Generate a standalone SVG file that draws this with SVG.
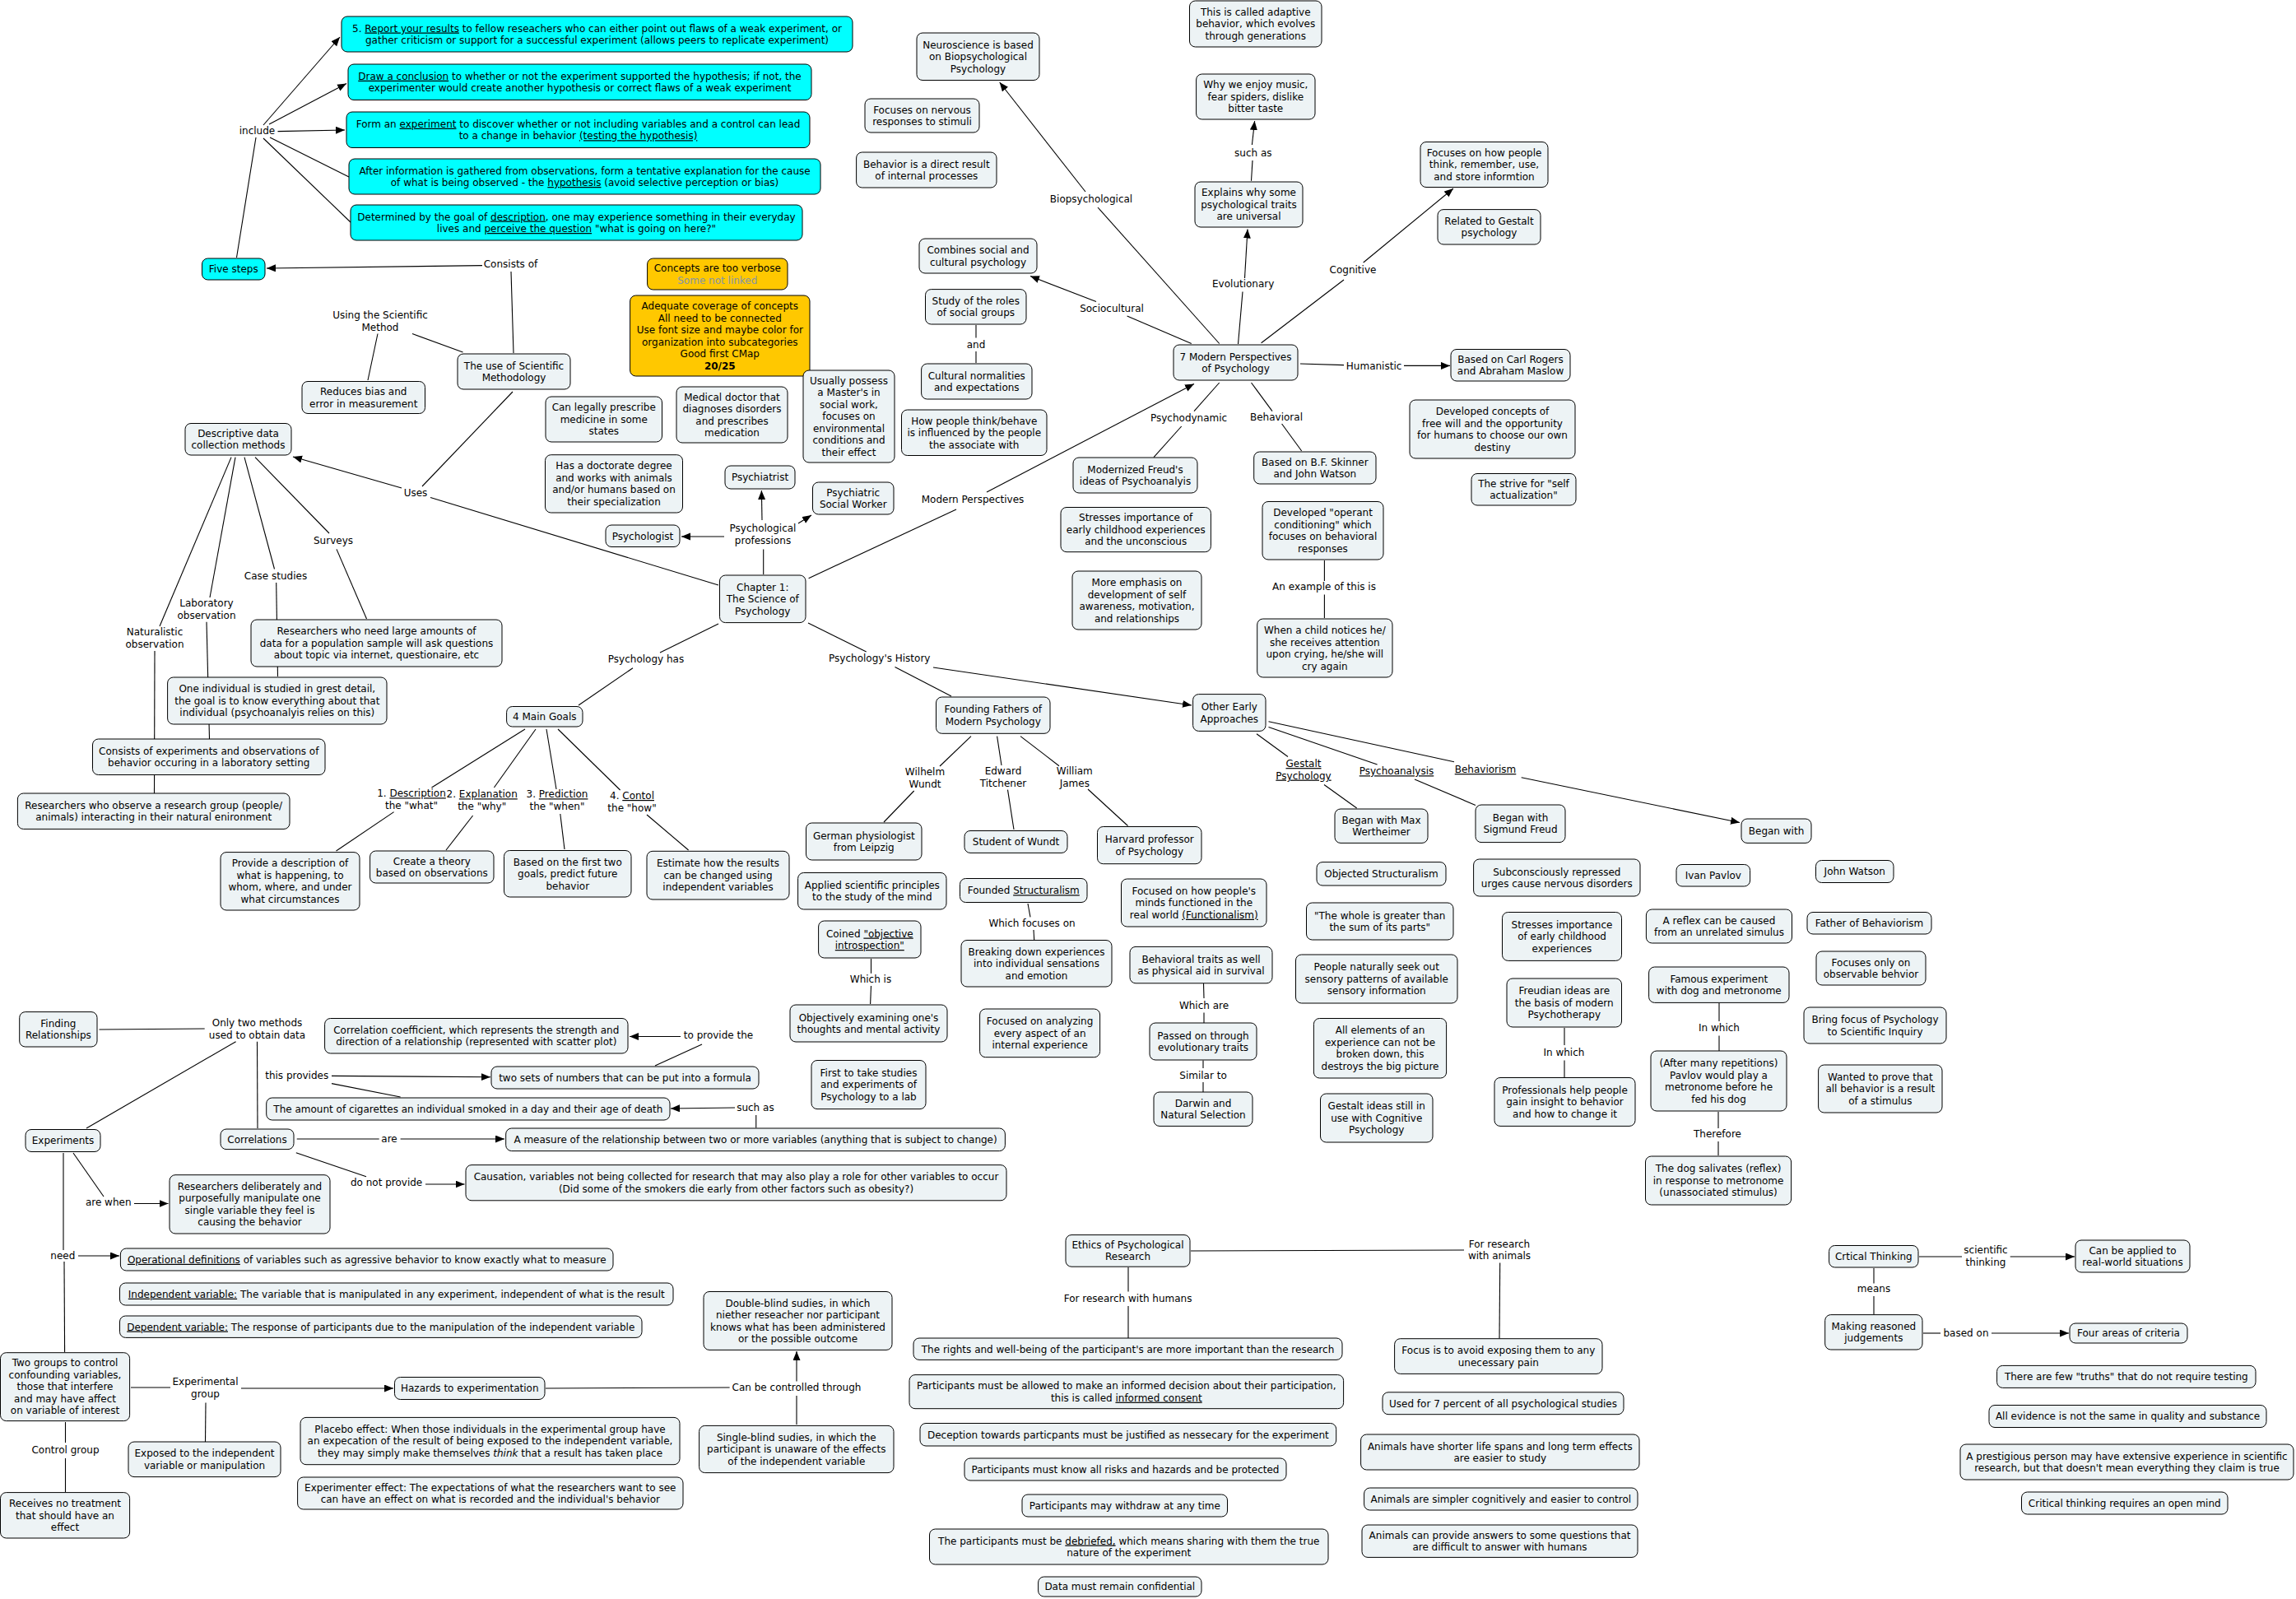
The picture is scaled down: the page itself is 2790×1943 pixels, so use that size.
<svg xmlns="http://www.w3.org/2000/svg" width="2790" height="1943" viewBox="0 0 2790 1943">
<style>
text{font-family:"DejaVu Sans",Verdana,sans-serif;font-size:12px;fill:#000;text-anchor:middle}
.n rect{fill:#EDF3F5;stroke:#000;stroke-width:1}
.c rect{fill:#00FFFF;stroke:#000;stroke-width:1}
.o rect{fill:#FFC800;stroke:#000;stroke-width:1}
#edges line{stroke:#000;stroke-width:1.1}
.a{marker-end:url(#ah)}
.u{text-decoration:underline}
.b{font-weight:bold}
.g{fill:#8494A8}
</style>
<defs>
<marker id="ah" markerUnits="userSpaceOnUse" markerWidth="12" markerHeight="10" refX="11" refY="4.5" orient="auto"><path d="M0,0 L11,4.5 L0,9 z" fill="#000"/></marker>
</defs>
<rect width="2790" height="1943" fill="#fff"/>
<g id="edges">
<line class="a" x1="320" y1="152" x2="413" y2="45"/>
<line class="a" x1="327" y1="151" x2="421" y2="101.5"/>
<line class="a" x1="337.5" y1="159.6" x2="419" y2="158"/>
<line x1="328" y1="167" x2="424" y2="215"/>
<line x1="320" y1="168" x2="426" y2="270"/>
<line x1="287.5" y1="313" x2="311" y2="167"/>
<line class="a" x1="586" y1="322.6" x2="324" y2="326"/>
<line x1="624" y1="429" x2="621" y2="330"/>
<line x1="562.5" y1="428" x2="501" y2="405.5"/>
<line x1="459" y1="405.5" x2="447" y2="462"/>
<line x1="623" y1="476" x2="513" y2="591"/>
<line class="a" x1="488" y1="593" x2="356" y2="555"/>
<line x1="873" y1="711" x2="523" y2="604.5"/>
<line x1="281" y1="555.6" x2="194" y2="761"/>
<line x1="286" y1="555.6" x2="255" y2="726"/>
<line x1="297" y1="555.6" x2="333.5" y2="691.5"/>
<line x1="310" y1="555.6" x2="400" y2="648"/>
<line x1="409" y1="667.4" x2="445.5" y2="752"/>
<line x1="335.7" y1="708" x2="337.5" y2="822"/>
<line x1="251" y1="755.7" x2="254.5" y2="898"/>
<line x1="188" y1="791" x2="187.5" y2="964"/>
<line x1="873" y1="758" x2="802" y2="793"/>
<line x1="769" y1="811.7" x2="703" y2="857"/>
<line x1="638" y1="886" x2="524.5" y2="957"/>
<line x1="651" y1="886" x2="600.4" y2="957"/>
<line x1="664" y1="886" x2="676" y2="959"/>
<line x1="678" y1="886" x2="753.6" y2="960"/>
<line x1="478.6" y1="986.6" x2="408.5" y2="1034"/>
<line x1="574.6" y1="991" x2="542" y2="1033"/>
<line x1="680.8" y1="989" x2="686" y2="1032"/>
<line x1="786" y1="990" x2="836.6" y2="1033"/>
<line x1="982" y1="757" x2="1052.7" y2="792"/>
<line x1="1087.5" y1="810.4" x2="1156" y2="846"/>
<line class="a" x1="1134" y1="811" x2="1448" y2="857"/>
<line x1="1180" y1="894.6" x2="1142" y2="931"/>
<line x1="1110.7" y1="961" x2="1074" y2="999"/>
<line x1="1211.6" y1="894.6" x2="1217" y2="930"/>
<line x1="1224.5" y1="959.7" x2="1232" y2="1008"/>
<line x1="1240" y1="894.6" x2="1287" y2="930.7"/>
<line x1="1322" y1="959" x2="1370.5" y2="1003.5"/>
<line x1="1058.5" y1="1165" x2="1058.5" y2="1182.8"/>
<line x1="1058.5" y1="1198" x2="1057.6" y2="1220"/>
<line x1="1249" y1="1098" x2="1252" y2="1114.4"/>
<line x1="1256" y1="1130" x2="1256.7" y2="1142"/>
<line x1="1462.5" y1="1195" x2="1463" y2="1213"/>
<line x1="1463" y1="1230.4" x2="1463" y2="1243"/>
<line x1="1462" y1="1288.6" x2="1462" y2="1298"/>
<line x1="1462" y1="1315" x2="1462" y2="1327"/>
<line x1="927.7" y1="698" x2="927.7" y2="667.4"/>
<line class="a" x1="926" y1="632" x2="925.4" y2="596"/>
<line class="a" x1="970" y1="636" x2="986" y2="626"/>
<line class="a" x1="880" y1="652" x2="828" y2="652"/>
<line x1="982.6" y1="702.7" x2="1162" y2="619"/>
<line class="a" x1="1199" y1="598" x2="1451" y2="466.4"/>
<line x1="1481.7" y1="417.5" x2="1334" y2="252"/>
<line class="a" x1="1319" y1="233" x2="1214.7" y2="100"/>
<line x1="1447.8" y1="417.5" x2="1369.6" y2="384"/>
<line class="a" x1="1332" y1="366.5" x2="1252" y2="335.6"/>
<line x1="1504.5" y1="418" x2="1510" y2="354.5"/>
<line class="a" x1="1512.5" y1="338" x2="1516" y2="278.5"/>
<line x1="1520.5" y1="219.7" x2="1522" y2="195"/>
<line class="a" x1="1521.4" y1="176" x2="1524.6" y2="147"/>
<line x1="1532.6" y1="416.7" x2="1633" y2="340"/>
<line class="a" x1="1656.7" y1="319" x2="1766" y2="229"/>
<line x1="1580" y1="442" x2="1633" y2="443.6"/>
<line class="a" x1="1706" y1="444.4" x2="1762" y2="444.4"/>
<line x1="1481.7" y1="465" x2="1451" y2="499.6"/>
<line x1="1435.7" y1="518" x2="1402" y2="555.6"/>
<line x1="1520.5" y1="465" x2="1546" y2="499.6"/>
<line x1="1557.6" y1="515" x2="1581.7" y2="548"/>
<line x1="1609.4" y1="681" x2="1609.4" y2="706"/>
<line x1="1609.4" y1="722.5" x2="1609.4" y2="751"/>
<line x1="1186" y1="395" x2="1186" y2="410.4"/>
<line x1="1186" y1="427" x2="1186" y2="441"/>
<line x1="1527" y1="891.7" x2="1565" y2="919.5"/>
<line x1="1609" y1="953.5" x2="1648.7" y2="982"/>
<line x1="1541.5" y1="883.4" x2="1673.6" y2="929"/>
<line x1="1719" y1="947" x2="1793" y2="978.4"/>
<line x1="1541.5" y1="876.8" x2="1767" y2="925.7"/>
<line class="a" x1="1848.7" y1="944.8" x2="2114" y2="999.5"/>
<line x1="1901" y1="1249" x2="1901" y2="1270"/>
<line x1="1901" y1="1288.5" x2="1901" y2="1309"/>
<line x1="2089" y1="1219" x2="2089" y2="1241"/>
<line x1="2089" y1="1258.6" x2="2089" y2="1277"/>
<line x1="2088" y1="1351" x2="2088" y2="1371"/>
<line x1="2088" y1="1387" x2="2088" y2="1404"/>
<line x1="120.5" y1="1251" x2="248.7" y2="1250"/>
<line x1="286.6" y1="1265.7" x2="105" y2="1371"/>
<line x1="312.5" y1="1265.7" x2="313" y2="1371"/>
<line x1="486.6" y1="1333" x2="403" y2="1316.6"/>
<line class="a" x1="403" y1="1307.4" x2="596" y2="1308.7"/>
<line x1="796" y1="1295" x2="853" y2="1269"/>
<line class="a" x1="827" y1="1259.5" x2="765" y2="1259.5"/>
<line x1="918.75" y1="1370.5" x2="918.75" y2="1355"/>
<line class="a" x1="893" y1="1346" x2="815" y2="1347"/>
<line x1="360.7" y1="1384" x2="460.7" y2="1384"/>
<line class="a" x1="486.6" y1="1384" x2="613" y2="1384"/>
<line x1="359.8" y1="1400.7" x2="445" y2="1429.7"/>
<line class="a" x1="517" y1="1439" x2="564.5" y2="1439"/>
<line x1="89" y1="1401" x2="126" y2="1454"/>
<line class="a" x1="163" y1="1462.5" x2="204.5" y2="1462.5"/>
<line x1="77" y1="1401" x2="77" y2="1519"/>
<line class="a" x1="95" y1="1526" x2="145" y2="1526"/>
<line x1="78" y1="1533" x2="78.6" y2="1643"/>
<line x1="159" y1="1686" x2="207" y2="1686"/>
<line class="a" x1="293" y1="1687" x2="478" y2="1687"/>
<line x1="250" y1="1704.6" x2="249.5" y2="1752"/>
<line x1="79.5" y1="1728" x2="79.5" y2="1753"/>
<line x1="79.5" y1="1772" x2="79.5" y2="1813"/>
<line x1="663" y1="1687" x2="886.6" y2="1686"/>
<line class="a" x1="968" y1="1678.5" x2="968" y2="1642"/>
<line x1="968" y1="1731" x2="968" y2="1696"/>
<line x1="1371" y1="1540" x2="1371" y2="1569.5"/>
<line x1="1371" y1="1587" x2="1371" y2="1626"/>
<line x1="1447" y1="1520" x2="1779" y2="1519"/>
<line x1="1822.7" y1="1534.6" x2="1822" y2="1626.5"/>
<line x1="2332" y1="1527" x2="2384" y2="1527"/>
<line class="a" x1="2442.7" y1="1527" x2="2521" y2="1527"/>
<line x1="2277" y1="1541" x2="2277" y2="1559.5"/>
<line x1="2277" y1="1575" x2="2277" y2="1597"/>
<line x1="2337" y1="1620" x2="2358" y2="1620"/>
<line class="a" x1="2420" y1="1620" x2="2514" y2="1620"/>
</g>
<g id="labels">
<text x="312.5" y="163.3">include</text>
<text x="620.5" y="325.3">Consists of</text>
<text x="462" y="387.3">Using the Scientific<tspan x="462" dy="14.5">Method</tspan></text>
<text x="505" y="603.3">Uses</text>
<text x="405" y="660.9">Surveys</text>
<text x="335" y="704.3">Case studies</text>
<text x="251" y="737.3">Laboratory<tspan x="251" dy="14.5">observation</tspan></text>
<text x="188" y="772">Naturalistic<tspan x="188" dy="14.5">observation</tspan></text>
<text x="1326" y="246">Biopsychological</text>
<text x="1351" y="378.7">Sociocultural</text>
<text x="1186" y="423">and</text>
<text x="1522.8" y="190">such as</text>
<text x="1510.7" y="349.3">Evolutionary</text>
<text x="1644" y="331.8">Cognitive</text>
<text x="1669.6" y="448.7">Humanistic</text>
<text x="1444.6" y="511.8">Psychodynamic</text>
<text x="1551" y="510.9">Behavioral</text>
<text x="1182" y="610.9">Modern Perspectives</text>
<text x="927" y="646.3">Psychological<tspan x="927" dy="14.5">professions</tspan></text>
<text x="785" y="805.3">Psychology has</text>
<text x="1068.75" y="804.3">Psychology's History</text>
<text x="1124" y="942">Wilhelm<tspan x="1124" dy="14.5">Wundt</tspan></text>
<text x="1219" y="941.3">Edward<tspan x="1219" dy="14.5">Titchener</tspan></text>
<text x="1305.8" y="941.3">William<tspan x="1305.8" dy="14.5">James</tspan></text>
<text x="1058" y="1194.3">Which is</text>
<text x="1254" y="1126.1">Which focuses on</text>
<text x="1463" y="1226">Which are</text>
<text x="1462" y="1310.9">Similar to</text>
<text x="1609" y="717.3">An example of this is</text>
<text x="1584" y="932.1" class="u">Gestalt<tspan x="1584" dy="14.5">Psychology</tspan></text>
<text x="1697" y="941.3" class="u">Psychoanalysis</text>
<text x="1805" y="939.1" class="u">Behaviorism</text>
<text x="1900.4" y="1282.8">In which</text>
<text x="2089" y="1253">In which</text>
<text x="2087" y="1382.3">Therefore</text>
<text x="500" y="968.3">1. <tspan class="u">Description</tspan><tspan x="500" dy="14.5">the "what"</tspan></text>
<text x="585.7" y="969.3">2. <tspan class="u">Explanation</tspan><tspan x="585.7" dy="14.5">the "why"</tspan></text>
<text x="677" y="969.3">3. <tspan class="u">Prediction</tspan><tspan x="677" dy="14.5">the "when"</tspan></text>
<text x="768" y="971">4. <tspan class="u">Contol</tspan><tspan x="768" dy="14.5">the "how"</tspan></text>
<text x="312.5" y="1247.3">Only two methods<tspan x="312.5" dy="14.5">used to obtain data</tspan></text>
<text x="873" y="1262.3">to provide the</text>
<text x="360.7" y="1310.9">this provides</text>
<text x="917.9" y="1350.3">such as</text>
<text x="473" y="1388.3">are</text>
<text x="469.6" y="1441.3">do not provide</text>
<text x="131.7" y="1465.3">are when</text>
<text x="76.3" y="1529.8">need</text>
<text x="249.5" y="1683.3">Experimental<tspan x="249.5" dy="14.5">group</tspan></text>
<text x="79.5" y="1765.7">Control group</text>
<text x="968" y="1690.3">Can be controlled through</text>
<text x="1370.6" y="1582">For research with humans</text>
<text x="1822" y="1515.7">For research<tspan x="1822" dy="14.5">with animals</tspan></text>
<text x="2413" y="1523.3">scientific<tspan x="2413" dy="14.5">thinking</tspan></text>
<text x="2277" y="1570.3">means</text>
<text x="2389" y="1624.3">based on</text>
</g>
<g id="n_report" class="c"><rect x="415" y="20" width="621" height="43" rx="7"/><text x="725.5" y="38.55">5. <tspan class="u">Report your results</tspan> to fellow reseachers who can either point out flaws of a weak experiment, or<tspan x="725.5" dy="14.5">gather criticism or support for a successful experiment (allows peers to replicate experiment)</tspan></text></g>
<g id="n_conclusion" class="c"><rect x="423" y="78" width="563" height="43.5" rx="7"/><text x="704.5" y="96.8"><tspan class="u">Draw a conclusion</tspan> to whether or not the experiment supported the hypothesis; if not, the<tspan x="704.5" dy="14.5">experimenter would create another hypothesis or correct flaws of a weak experiment</tspan></text></g>
<g id="n_experiment" class="c"><rect x="421" y="136" width="563" height="43.5" rx="7"/><text x="702.5" y="154.8">Form an <tspan class="u">experiment</tspan> to discover whether or not including variables and a control can lead<tspan x="702.5" dy="14.5">to a change in behavior <tspan class="u">(testing the hypothesis)</tspan></tspan></text></g>
<g id="n_hypothesis" class="c"><rect x="424" y="193" width="573" height="43" rx="7"/><text x="710.5" y="211.55">After information is gathered from observations, form a tentative explanation for the cause<tspan x="710.5" dy="14.5">of what is being observed - the <tspan class="u">hypothesis</tspan> (avoid selective perception or bias)</tspan></text></g>
<g id="n_description" class="c"><rect x="426" y="249" width="549" height="43" rx="7"/><text x="700.5" y="267.55">Determined by the goal of <tspan class="u">description</tspan>, one may experience something in their everyday<tspan x="700.5" dy="14.5">lives and <tspan class="u">perceive the question</tspan> "what is going on here?"</tspan></text></g>
<g id="n_fivesteps" class="c"><rect x="245.5" y="314" width="76.5" height="26" rx="7"/><text x="283.75" y="331.3">Five steps</text></g>
<g id="n_sci" class="n"><rect x="556" y="430" width="137" height="43" rx="7"/><text x="624.5" y="448.55">The use of Scientific<tspan x="624.5" dy="14.5">Methodology</tspan></text></g>
<g id="n_reduces" class="n"><rect x="367" y="463.5" width="149.5" height="39" rx="7"/><text x="441.75" y="480.05">Reduces bias and<tspan x="441.75" dy="14.5">error in measurement</tspan></text></g>
<g id="n_descdata" class="n"><rect x="225" y="514.5" width="129" height="38.5" rx="7"/><text x="289.5" y="530.8">Descriptive data<tspan x="289.5" dy="14.5">collection methods</tspan></text></g>
<g id="n_verbose" class="o"><rect x="786.6" y="314" width="170.4" height="38" rx="7"/><text x="871.8" y="330.05">Concepts are too verbose<tspan x="871.8" dy="14.5" class="g">Some not linked</tspan></text></g>
<g id="n_grade" class="o"><rect x="765.6" y="359" width="218.4" height="98" rx="7"/><text x="874.8" y="376.05">Adequate coverage of concepts<tspan x="874.8" dy="14.5">All need to be connected</tspan><tspan x="874.8" dy="14.5">Use font size and maybe color for</tspan><tspan x="874.8" dy="14.5">organization into subcategories</tspan><tspan x="874.8" dy="14.5">Good first CMap</tspan><tspan x="874.8" dy="14.5" class="b">20/25</tspan></text></g>
<g id="n_prescribe" class="n"><rect x="663" y="482" width="141.5" height="55" rx="7"/><text x="733.75" y="499.3">Can legally prescribe<tspan x="733.75" dy="14.5">medicine in some</tspan><tspan x="733.75" dy="14.5">states</tspan></text></g>
<g id="n_medical" class="n"><rect x="822" y="470" width="135" height="68" rx="7"/><text x="889.5" y="486.55">Medical doctor that<tspan x="889.5" dy="14.5">diagnoses disorders</tspan><tspan x="889.5" dy="14.5">and prescribes</tspan><tspan x="889.5" dy="14.5">medication</tspan></text></g>
<g id="n_master" class="n"><rect x="976" y="450" width="111" height="112" rx="7"/><text x="1031.5" y="466.8">Usually possess<tspan x="1031.5" dy="14.5">a Master's in</tspan><tspan x="1031.5" dy="14.5">social work,</tspan><tspan x="1031.5" dy="14.5">focuses on</tspan><tspan x="1031.5" dy="14.5">environmental</tspan><tspan x="1031.5" dy="14.5">conditions and</tspan><tspan x="1031.5" dy="14.5">their effect</tspan></text></g>
<g id="n_doctorate" class="n"><rect x="662.5" y="552.7" width="167" height="70.3" rx="7"/><text x="746" y="570.4">Has a doctorate degree<tspan x="746" dy="14.5">and works with animals</tspan><tspan x="746" dy="14.5">and/or humans based on</tspan><tspan x="746" dy="14.5">their specialization</tspan></text></g>
<g id="n_psychiatrist" class="n"><rect x="881" y="566" width="85" height="28" rx="7"/><text x="923.5" y="584.3">Psychiatrist</text></g>
<g id="n_socialworker" class="n"><rect x="987.5" y="586" width="98.5" height="39" rx="7"/><text x="1036.75" y="602.55">Psychiatric<tspan x="1036.75" dy="14.5">Social Worker</tspan></text></g>
<g id="n_psychologist" class="n"><rect x="736" y="638" width="90" height="26.5" rx="7"/><text x="781" y="655.55">Psychologist</text></g>
<g id="n_chapter" class="n"><rect x="874.5" y="699" width="104.5" height="57.6" rx="7"/><text x="926.75" y="717.6">Chapter 1:<tspan x="926.75" dy="14.5">The Science of</tspan><tspan x="926.75" dy="14.5">Psychology</tspan></text></g>
<g id="n_neuro" class="n"><rect x="1114" y="40" width="149" height="57.5" rx="7"/><text x="1188.5" y="58.55">Neuroscience is based<tspan x="1188.5" dy="14.5">on Biopsychological</tspan><tspan x="1188.5" dy="14.5">Psychology</tspan></text></g>
<g id="n_nervous" class="n"><rect x="1051" y="120" width="139" height="41" rx="7"/><text x="1120.5" y="137.55">Focuses on nervous<tspan x="1120.5" dy="14.5">responses to stimuli</tspan></text></g>
<g id="n_internal" class="n"><rect x="1040.6" y="185" width="170.4" height="43" rx="7"/><text x="1125.8" y="203.55">Behavior is a direct result<tspan x="1125.8" dy="14.5">of internal processes</tspan></text></g>
<g id="n_combines" class="n"><rect x="1117" y="290" width="143" height="42" rx="7"/><text x="1188.5" y="308.05">Combines social and<tspan x="1188.5" dy="14.5">cultural psychology</tspan></text></g>
<g id="n_roles" class="n"><rect x="1124.5" y="351.6" width="122.5" height="42.4" rx="7"/><text x="1185.75" y="369.85">Study of the roles<tspan x="1185.75" dy="14.5">of social groups</tspan></text></g>
<g id="n_cultural" class="n"><rect x="1119.6" y="442" width="134.4" height="43" rx="7"/><text x="1186.8" y="460.55">Cultural normalities<tspan x="1186.8" dy="14.5">and expectations</tspan></text></g>
<g id="n_howpeople" class="n"><rect x="1095.5" y="498" width="176.5" height="55.5" rx="7"/><text x="1183.75" y="515.55">How people think/behave<tspan x="1183.75" dy="14.5">is influenced by the people</tspan><tspan x="1183.75" dy="14.5">the associate with</tspan></text></g>
<g id="n_adaptive" class="n"><rect x="1445.5" y="1" width="160.5" height="56" rx="7"/><text x="1525.75" y="18.8">This is called adaptive<tspan x="1525.75" dy="14.5">behavior, which evolves</tspan><tspan x="1525.75" dy="14.5">through generations</tspan></text></g>
<g id="n_music" class="n"><rect x="1453.6" y="90" width="144.4" height="55" rx="7"/><text x="1525.8" y="107.3">Why we enjoy music,<tspan x="1525.8" dy="14.5">fear spiders, dislike</tspan><tspan x="1525.8" dy="14.5">bitter taste</tspan></text></g>
<g id="n_explains" class="n"><rect x="1452" y="221" width="131" height="55" rx="7"/><text x="1517.5" y="238.3">Explains why some<tspan x="1517.5" dy="14.5">psychological traits</tspan><tspan x="1517.5" dy="14.5">are universal</tspan></text></g>
<g id="n_cogfocus" class="n"><rect x="1726" y="172.5" width="155" height="55" rx="7"/><text x="1803.5" y="189.8">Focuses on how people<tspan x="1803.5" dy="14.5">think, remember, use,</tspan><tspan x="1803.5" dy="14.5">and store informtion</tspan></text></g>
<g id="n_gestaltrel" class="n"><rect x="1747" y="254.6" width="125" height="42.4" rx="7"/><text x="1809.5" y="272.85">Related to Gestalt<tspan x="1809.5" dy="14.5">psychology</tspan></text></g>
<g id="n_modern7" class="n"><rect x="1426" y="419" width="151" height="43" rx="7"/><text x="1501.5" y="437.55">7 Modern Perspectives<tspan x="1501.5" dy="14.5">of Psychology</tspan></text></g>
<g id="n_rogers" class="n"><rect x="1763" y="424.5" width="145" height="38.5" rx="7"/><text x="1835.5" y="440.8">Based on Carl Rogers<tspan x="1835.5" dy="14.5">and Abraham Maslow</tspan></text></g>
<g id="n_freewill" class="n"><rect x="1713" y="486" width="201" height="71" rx="7"/><text x="1813.5" y="504.05">Developed concepts of<tspan x="1813.5" dy="14.5">free will and the opportunity</tspan><tspan x="1813.5" dy="14.5">for humans to choose our own</tspan><tspan x="1813.5" dy="14.5">destiny</tspan></text></g>
<g id="n_strive" class="n"><rect x="1788" y="575.5" width="127" height="38.5" rx="7"/><text x="1851.5" y="591.8">The strive for "self<tspan x="1851.5" dy="14.5">actualization"</tspan></text></g>
<g id="n_freudmod" class="n"><rect x="1304" y="556" width="151" height="43" rx="7"/><text x="1379.5" y="574.55">Modernized Freud's<tspan x="1379.5" dy="14.5">ideas of Psychoanalyis</tspan></text></g>
<g id="n_stresses1" class="n"><rect x="1289" y="616.5" width="182.4" height="54.2" rx="7"/><text x="1380.2" y="633.4">Stresses importance of<tspan x="1380.2" dy="14.5">early childhood experiences</tspan><tspan x="1380.2" dy="14.5">and the unconscious</tspan></text></g>
<g id="n_emphasis" class="n"><rect x="1303" y="694" width="157" height="71" rx="7"/><text x="1381.5" y="712.05">More emphasis on<tspan x="1381.5" dy="14.5">development of self</tspan><tspan x="1381.5" dy="14.5">awareness, motivation,</tspan><tspan x="1381.5" dy="14.5">and relationships</tspan></text></g>
<g id="n_skinner" class="n"><rect x="1523.7" y="549" width="148.3" height="39" rx="7"/><text x="1597.85" y="565.55">Based on B.F. Skinner<tspan x="1597.85" dy="14.5">and John Watson</tspan></text></g>
<g id="n_operant" class="n"><rect x="1534" y="609.5" width="147" height="70.5" rx="7"/><text x="1607.5" y="627.3">Developed "operant<tspan x="1607.5" dy="14.5">conditioning" which</tspan><tspan x="1607.5" dy="14.5">focuses on behavioral</tspan><tspan x="1607.5" dy="14.5">responses</tspan></text></g>
<g id="n_child" class="n"><rect x="1527.7" y="752" width="164.3" height="71" rx="7"/><text x="1609.85" y="770.05">When a child notices he/<tspan x="1609.85" dy="14.5">she receives attention</tspan><tspan x="1609.85" dy="14.5">upon crying, he/she will</tspan><tspan x="1609.85" dy="14.5">cry again</tspan></text></g>
<g id="n_other" class="n"><rect x="1449.6" y="843.6" width="88.4" height="44.8" rx="7"/><text x="1493.8" y="863.05">Other Early<tspan x="1493.8" dy="14.5">Approaches</tspan></text></g>
<g id="n_wertheimer" class="n"><rect x="1622" y="983" width="113" height="41.4" rx="7"/><text x="1678.5" y="1000.75">Began with Max<tspan x="1678.5" dy="14.5">Wertheimer</tspan></text></g>
<g id="n_freud" class="n"><rect x="1793" y="978" width="109" height="45.6" rx="7"/><text x="1847.5" y="997.85">Began with<tspan x="1847.5" dy="14.5">Sigmund Freud</tspan></text></g>
<g id="n_objected" class="n"><rect x="1600" y="1047.6" width="157" height="28.4" rx="7"/><text x="1678.5" y="1066.1">Objected Structuralism</text></g>
<g id="n_whole" class="n"><rect x="1587.5" y="1097" width="178.5" height="45" rx="7"/><text x="1676.75" y="1116.55">"The whole is greater than<tspan x="1676.75" dy="14.5">the sum of its parts"</tspan></text></g>
<g id="n_patterns" class="n"><rect x="1574.5" y="1160" width="196.5" height="59" rx="7"/><text x="1672.75" y="1179.3">People naturally seek out<tspan x="1672.75" dy="14.5">sensory patterns of available</tspan><tspan x="1672.75" dy="14.5">sensory information</tspan></text></g>
<g id="n_elements" class="n"><rect x="1596.4" y="1237.5" width="161.2" height="72.5" rx="7"/><text x="1677" y="1256.3">All elements of an<tspan x="1677" dy="14.5">experience can not be</tspan><tspan x="1677" dy="14.5">broken down, this</tspan><tspan x="1677" dy="14.5">destroys the big picture</tspan></text></g>
<g id="n_gestaltcog" class="n"><rect x="1604.5" y="1329" width="136.5" height="59" rx="7"/><text x="1672.75" y="1348.3">Gestalt ideas still in<tspan x="1672.75" dy="14.5">use with Cognitive</tspan><tspan x="1672.75" dy="14.5">Psychology</tspan></text></g>
<g id="n_subcon" class="n"><rect x="1790.6" y="1044" width="202.4" height="45" rx="7"/><text x="1891.8" y="1063.55">Subconsciously repressed<tspan x="1891.8" dy="14.5">urges cause nervous disorders</tspan></text></g>
<g id="n_stresses2" class="n"><rect x="1825.5" y="1108.5" width="145" height="58.9" rx="7"/><text x="1898" y="1127.75">Stresses importance<tspan x="1898" dy="14.5">of early childhood</tspan><tspan x="1898" dy="14.5">experiences</tspan></text></g>
<g id="n_freudian" class="n"><rect x="1831" y="1189" width="139.5" height="59" rx="7"/><text x="1900.75" y="1208.3">Freudian ideas are<tspan x="1900.75" dy="14.5">the basis of modern</tspan><tspan x="1900.75" dy="14.5">Psychotherapy</tspan></text></g>
<g id="n_professionals" class="n"><rect x="1816" y="1309.5" width="171" height="58.9" rx="7"/><text x="1901.5" y="1328.75">Professionals help people<tspan x="1901.5" dy="14.5">gain insight to behavior</tspan><tspan x="1901.5" dy="14.5">and how to change it</tspan></text></g>
<g id="n_pavlov" class="n"><rect x="2037" y="1050.5" width="89.6" height="26.5" rx="7"/><text x="2081.8" y="1068.05">Ivan Pavlov</text></g>
<g id="n_reflex" class="n"><rect x="2000.4" y="1105" width="177.1" height="41" rx="7"/><text x="2088.95" y="1122.55">A reflex can be caused<tspan x="2088.95" dy="14.5">from an unrelated simulus</tspan></text></g>
<g id="n_famous" class="n"><rect x="2003.6" y="1175" width="170.4" height="43.4" rx="7"/><text x="2088.8" y="1193.75">Famous experiment<tspan x="2088.8" dy="14.5">with dog and metronome</tspan></text></g>
<g id="n_after" class="n"><rect x="2006" y="1277" width="165" height="73" rx="7"/><text x="2088.5" y="1296.05">(After many repetitions)<tspan x="2088.5" dy="14.5">Pavlov would play a</tspan><tspan x="2088.5" dy="14.5">metronome before he</tspan><tspan x="2088.5" dy="14.5">fed his dog</tspan></text></g>
<g id="n_dog" class="n"><rect x="1999.5" y="1405" width="177.1" height="59" rx="7"/><text x="2088.05" y="1424.3">The dog salivates (reflex)<tspan x="2088.05" dy="14.5">in response to metronome</tspan><tspan x="2088.05" dy="14.5">(unassociated stimulus)</tspan></text></g>
<g id="n_beganwith" class="n"><rect x="2116" y="995" width="85" height="29.4" rx="7"/><text x="2158.5" y="1014">Began with</text></g>
<g id="n_watson" class="n"><rect x="2206.5" y="1045.5" width="94.5" height="27" rx="7"/><text x="2253.75" y="1063.3">John Watson</text></g>
<g id="n_father" class="n"><rect x="2196" y="1108.5" width="151" height="26.5" rx="7"/><text x="2271.5" y="1126.05">Father of Behaviorism</text></g>
<g id="n_observable" class="n"><rect x="2207" y="1156" width="133" height="41" rx="7"/><text x="2273.5" y="1173.55">Focuses only on<tspan x="2273.5" dy="14.5">observable behvior</tspan></text></g>
<g id="n_inquiry" class="n"><rect x="2192" y="1224" width="173" height="44" rx="7"/><text x="2278.5" y="1243.05">Bring focus of Psychology<tspan x="2278.5" dy="14.5">to Scientific Inquiry</tspan></text></g>
<g id="n_wanted" class="n"><rect x="2209.6" y="1294" width="150.4" height="58" rx="7"/><text x="2284.8" y="1312.8">Wanted to prove that<tspan x="2284.8" dy="14.5">all behavior is a result</tspan><tspan x="2284.8" dy="14.5">of a stimulus</tspan></text></g>
<g id="n_founding" class="n"><rect x="1137.5" y="847" width="138.5" height="44.3" rx="7"/><text x="1206.75" y="866.2">Founding Fathers of<tspan x="1206.75" dy="14.5">Modern Psychology</tspan></text></g>
<g id="n_german" class="n"><rect x="979.5" y="1000" width="140.5" height="45" rx="7"/><text x="1049.75" y="1019.55">German physiologist<tspan x="1049.75" dy="14.5">from Leipzig</tspan></text></g>
<g id="n_student" class="n"><rect x="1172" y="1009.5" width="125" height="26.9" rx="7"/><text x="1234.5" y="1027.25">Student of Wundt</text></g>
<g id="n_harvard" class="n"><rect x="1333.5" y="1004.5" width="126.5" height="45.2" rx="7"/><text x="1396.75" y="1024.15">Harvard professor<tspan x="1396.75" dy="14.5">of Psychology</tspan></text></g>
<g id="n_applied" class="n"><rect x="969.6" y="1060.5" width="180.4" height="44.5" rx="7"/><text x="1059.8" y="1079.8">Applied scientific principles<tspan x="1059.8" dy="14.5">to the study of the mind</tspan></text></g>
<g id="n_coined" class="n"><rect x="994.6" y="1119" width="124.4" height="45" rx="7"/><text x="1056.8" y="1138.55">Coined <tspan class="u">"objective</tspan><tspan x="1056.8" dy="14.5" class="u">introspection"</tspan></text></g>
<g id="n_objectively" class="n"><rect x="960" y="1221" width="191" height="45" rx="7"/><text x="1055.5" y="1240.55">Objectively examining one's<tspan x="1055.5" dy="14.5">thoughts and mental activity</tspan></text></g>
<g id="n_firstlab" class="n"><rect x="986" y="1288.5" width="139" height="59.1" rx="7"/><text x="1055.5" y="1307.85">First to take studies<tspan x="1055.5" dy="14.5">and experiments of</tspan><tspan x="1055.5" dy="14.5">Psychology to a lab</tspan></text></g>
<g id="n_structuralism" class="n"><rect x="1166.5" y="1067.5" width="154.5" height="29" rx="7"/><text x="1243.75" y="1086.3">Founded <tspan class="u">Structuralism</tspan></text></g>
<g id="n_breaking" class="n"><rect x="1168" y="1142.5" width="183" height="56.5" rx="7"/><text x="1259.5" y="1160.55">Breaking down experiences<tspan x="1259.5" dy="14.5">into individual sensations</tspan><tspan x="1259.5" dy="14.5">and emotion</tspan></text></g>
<g id="n_analyzing" class="n"><rect x="1190.6" y="1226" width="146" height="58.7" rx="7"/><text x="1263.6" y="1245.15">Focused on analyzing<tspan x="1263.6" dy="14.5">every aspect of an</tspan><tspan x="1263.6" dy="14.5">internal experience</tspan></text></g>
<g id="n_functionalism" class="n"><rect x="1362.5" y="1068" width="176.5" height="58" rx="7"/><text x="1450.75" y="1086.8">Focused on how people's<tspan x="1450.75" dy="14.5">minds functioned in the</tspan><tspan x="1450.75" dy="14.5">real world <tspan class="u">(Functionalism)</tspan></tspan></text></g>
<g id="n_traits" class="n"><rect x="1373" y="1150.4" width="173" height="44.4" rx="7"/><text x="1459.5" y="1169.65">Behavioral traits as well<tspan x="1459.5" dy="14.5">as physical aid in survival</tspan></text></g>
<g id="n_passed" class="n"><rect x="1397" y="1243" width="130" height="45" rx="7"/><text x="1462" y="1262.55">Passed on through<tspan x="1462" dy="14.5">evolutionary traits</tspan></text></g>
<g id="n_darwin" class="n"><rect x="1402" y="1327" width="120" height="41.4" rx="7"/><text x="1462" y="1344.75">Darwin and<tspan x="1462" dy="14.5">Natural Selection</tspan></text></g>
<g id="n_surveys" class="n"><rect x="305" y="753" width="305" height="57" rx="7"/><text x="457.5" y="771.3">Researchers who need large amounts of<tspan x="457.5" dy="14.5">data for a population sample will ask questions</tspan><tspan x="457.5" dy="14.5">about topic via internet, questionaire, etc</tspan></text></g>
<g id="n_case" class="n"><rect x="203.6" y="823" width="266.4" height="57" rx="7"/><text x="336.8" y="841.3">One individual is studied in grest detail,<tspan x="336.8" dy="14.5">the goal is to know everything about that</tspan><tspan x="336.8" dy="14.5">individual (psychoanalyis relies on this)</tspan></text></g>
<g id="n_lab" class="n"><rect x="112.5" y="898" width="282.5" height="43.5" rx="7"/><text x="253.75" y="916.8">Consists of experiments and observations of<tspan x="253.75" dy="14.5">behavior occuring in a laboratory setting</tspan></text></g>
<g id="n_natural" class="n"><rect x="21.4" y="964" width="330.6" height="43.4" rx="7"/><text x="186.7" y="982.75">Researchers who observe a research group (people/<tspan x="186.7" dy="14.5">animals) interacting in their natural enironment</tspan></text></g>
<g id="n_goals" class="n"><rect x="615.6" y="858.5" width="92.4" height="24.5" rx="7"/><text x="661.8" y="875.05">4 Main Goals</text></g>
<g id="n_provide" class="n"><rect x="268" y="1035.6" width="169" height="70.4" rx="7"/><text x="352.5" y="1053.35">Provide a description of<tspan x="352.5" dy="14.5">what is happening, to</tspan><tspan x="352.5" dy="14.5">whom, where, and under</tspan><tspan x="352.5" dy="14.5">what circumstances</tspan></text></g>
<g id="n_theory" class="n"><rect x="449.6" y="1034" width="150.4" height="39" rx="7"/><text x="524.8" y="1050.55">Create a theory<tspan x="524.8" dy="14.5">based on observations</tspan></text></g>
<g id="n_predict" class="n"><rect x="612.5" y="1033.5" width="154.5" height="56.5" rx="7"/><text x="689.75" y="1051.55">Based on the first two<tspan x="689.75" dy="14.5">goals, predict future</tspan><tspan x="689.75" dy="14.5">behavior</tspan></text></g>
<g id="n_estimate" class="n"><rect x="786" y="1034.3" width="173" height="58.7" rx="7"/><text x="872.5" y="1053.45">Estimate how the results<tspan x="872.5" dy="14.5">can be changed using</tspan><tspan x="872.5" dy="14.5">independent variables</tspan></text></g>
<g id="n_finding" class="n"><rect x="23.7" y="1229.6" width="94.3" height="42.4" rx="7"/><text x="70.85" y="1247.85">Finding<tspan x="70.85" dy="14.5">Relationships</tspan></text></g>
<g id="n_coef" class="n"><rect x="394.6" y="1237.5" width="368.4" height="42.5" rx="7"/><text x="578.8" y="1255.8">Correlation coefficient, which represents the strength and<tspan x="578.8" dy="14.5">direction of a relationship (represented with scatter plot)</tspan></text></g>
<g id="n_twosets" class="n"><rect x="597" y="1296" width="325" height="27" rx="7"/><text x="759.5" y="1313.8">two sets of numbers that can be put into a formula</text></g>
<g id="n_cigarettes" class="n"><rect x="323.7" y="1334" width="490.3" height="27" rx="7"/><text x="568.85" y="1351.8">The amount of cigarettes an individual smoked in a day and their age of death</text></g>
<g id="n_experiments" class="n"><rect x="31" y="1372.5" width="91" height="27" rx="7"/><text x="76.5" y="1390.3">Experiments</text></g>
<g id="n_correlations" class="n"><rect x="268" y="1372" width="89" height="24.6" rx="7"/><text x="312.5" y="1388.6">Correlations</text></g>
<g id="n_measure" class="n"><rect x="614.7" y="1371" width="606.7" height="27.6" rx="7"/><text x="918.05" y="1389.1">A measure of the relationship between two or more variables (anything that is subject to change)</text></g>
<g id="n_causation" class="n"><rect x="566" y="1415.6" width="657" height="43.2" rx="7"/><text x="894.5" y="1434.25">Causation, variables not being collected for research that may also play a role for other variables to occur<tspan x="894.5" dy="14.5">(Did some of the smokers die early from other factors such as obesity?)</tspan></text></g>
<g id="n_deliberately" class="n"><rect x="206" y="1427.7" width="195" height="71.3" rx="7"/><text x="303.5" y="1445.9">Researchers deliberately and<tspan x="303.5" dy="14.5">purposefully manipulate one</tspan><tspan x="303.5" dy="14.5">single variable they feel is</tspan><tspan x="303.5" dy="14.5">causing the behavior</tspan></text></g>
<g id="n_operational" class="n"><rect x="146.4" y="1517" width="598.6" height="27" rx="7"/><text x="445.7" y="1534.8"><tspan class="u">Operational definitions</tspan> of variables such as agressive behavior to know exactly what to measure</text></g>
<g id="n_independent" class="n"><rect x="145.5" y="1559" width="672.5" height="27" rx="7"/><text x="481.75" y="1576.8"><tspan class="u">Independent variable:</tspan> The variable that is manipulated in any experiment, independent of what is the result</text></g>
<g id="n_dependent" class="n"><rect x="145.5" y="1599" width="634.5" height="26.4" rx="7"/><text x="462.75" y="1616.5"><tspan class="u">Dependent variable:</tspan> The response of participants due to the manipulation of the independent variable</text></g>
<g id="n_twogroups" class="n"><rect x="0.5" y="1643.7" width="157.1" height="82.9" rx="7"/><text x="79" y="1660.45">Two groups to control<tspan x="79" dy="14.5">confounding variables,</tspan><tspan x="79" dy="14.5">those that interfere</tspan><tspan x="79" dy="14.5">and may have affect</tspan><tspan x="79" dy="14.5">on variable of interest</tspan></text></g>
<g id="n_hazards" class="n"><rect x="479.5" y="1673.5" width="182.5" height="27" rx="7"/><text x="570.75" y="1691.3">Hazards to experimentation</text></g>
<g id="n_exposed" class="n"><rect x="156" y="1752" width="185" height="42.6" rx="7"/><text x="248.5" y="1770.35">Exposed to the independent<tspan x="248.5" dy="14.5">variable or manipulation</tspan></text></g>
<g id="n_notreat" class="n"><rect x="0.5" y="1813.6" width="157.1" height="55.4" rx="7"/><text x="79" y="1831.1">Receives no treatment<tspan x="79" dy="14.5">that should have an</tspan><tspan x="79" dy="14.5">effect</tspan></text></g>
<g id="n_placebo" class="n"><rect x="365" y="1722.4" width="461" height="57.3" rx="7"/><text x="595.5" y="1740.85">Placebo effect: When those individuals in the experimental group have<tspan x="595.5" dy="14.5">an expecation of the result of being exposed to the independent variable,</tspan><tspan x="595.5" dy="14.5">they may simply make themselves <tspan font-style="italic">think</tspan>  that a result has taken place</tspan></text></g>
<g id="n_experimenter" class="n"><rect x="361.6" y="1795" width="468.4" height="39" rx="7"/><text x="595.8" y="1811.55">Experimenter effect: The expectations of what the researchers want to see<tspan x="595.8" dy="14.5">can have an effect on what is recorded and the individual's behavior</tspan></text></g>
<g id="n_double" class="n"><rect x="855" y="1569.5" width="229" height="70.9" rx="7"/><text x="969.5" y="1587.5">Double-blind sudies, in which<tspan x="969.5" dy="14.5">niether reseacher nor participant</tspan><tspan x="969.5" dy="14.5">knows what has been administered</tspan><tspan x="969.5" dy="14.5">or the possible outcome</tspan></text></g>
<g id="n_single" class="n"><rect x="849.6" y="1732.4" width="236.4" height="57.2" rx="7"/><text x="967.8" y="1750.8">Single-blind sudies, in which the<tspan x="967.8" dy="14.5">participant is unaware of the effects</tspan><tspan x="967.8" dy="14.5">of the independent variable</tspan></text></g>
<g id="n_ethics" class="n"><rect x="1295" y="1500.6" width="151" height="38.6" rx="7"/><text x="1370.5" y="1516.95">Ethics of Psychological<tspan x="1370.5" dy="14.5">Research</tspan></text></g>
<g id="n_rights" class="n"><rect x="1110" y="1626" width="521" height="26.4" rx="7"/><text x="1370.5" y="1643.5">The rights and well-being of the participant's are more important than the research</text></g>
<g id="n_consent" class="n"><rect x="1105" y="1670.6" width="527.6" height="41.1" rx="7"/><text x="1368.8" y="1688.2">Participants must be allowed to make an informed decision about their participation,<tspan x="1368.8" dy="14.5">this is called <tspan class="u">informed consent</tspan></tspan></text></g>
<g id="n_deception" class="n"><rect x="1118" y="1729.5" width="505.7" height="27.5" rx="7"/><text x="1370.85" y="1747.55">Deception towards particpants must be justified as nessecary for the experiment</text></g>
<g id="n_risks" class="n"><rect x="1172" y="1772" width="391" height="27" rx="7"/><text x="1367.5" y="1789.8">Participants must know all risks and hazards and be protected</text></g>
<g id="n_withdraw" class="n"><rect x="1242" y="1816" width="249.5" height="27" rx="7"/><text x="1366.75" y="1833.8">Participants may withdraw at any time</text></g>
<g id="n_debrief" class="n"><rect x="1129.5" y="1858" width="484.5" height="43" rx="7"/><text x="1371.75" y="1876.55">The participants must be <tspan class="u">debriefed,</tspan> which means  sharing with them the true<tspan x="1371.75" dy="14.5">nature of the experiment</tspan></text></g>
<g id="n_confidential" class="n"><rect x="1261.6" y="1916" width="198.4" height="24" rx="7"/><text x="1360.8" y="1932.3">Data must remain confidential</text></g>
<g id="n_pain" class="n"><rect x="1694.6" y="1626.7" width="252.4" height="42.7" rx="7"/><text x="1820.8" y="1645.1">Focus is to avoid exposing them to any<tspan x="1820.8" dy="14.5">unecessary pain</tspan></text></g>
<g id="n_seven" class="n"><rect x="1680" y="1691.8" width="293" height="26.9" rx="7"/><text x="1826.5" y="1709.55">Used for 7 percent of all psychological studies</text></g>
<g id="n_lifespans" class="n"><rect x="1653.6" y="1743" width="338.4" height="43" rx="7"/><text x="1822.8" y="1761.55">Animals have shorter life spans and long term effects<tspan x="1822.8" dy="14.5">are easier to study</tspan></text></g>
<g id="n_simpler" class="n"><rect x="1657.6" y="1808" width="332.4" height="27" rx="7"/><text x="1823.8" y="1825.8">Animals are simpler cognitively and easier to control</text></g>
<g id="n_answers" class="n"><rect x="1655" y="1853" width="335" height="39.4" rx="7"/><text x="1822.5" y="1869.75">Animals can provide answers to some questions that<tspan x="1822.5" dy="14.5">are difficult to answer with humans</tspan></text></g>
<g id="n_critical" class="n"><rect x="2222.6" y="1513.5" width="108.4" height="26.5" rx="7"/><text x="2276.8" y="1531.05">Crtical Thinking</text></g>
<g id="n_applied2" class="n"><rect x="2522" y="1507" width="139" height="39" rx="7"/><text x="2591.5" y="1523.55">Can be applied to<tspan x="2591.5" dy="14.5">real-world situations</tspan></text></g>
<g id="n_judgements" class="n"><rect x="2217.7" y="1597.6" width="118.3" height="42.4" rx="7"/><text x="2276.85" y="1615.85">Making reasoned<tspan x="2276.85" dy="14.5">judgements</tspan></text></g>
<g id="n_four" class="n"><rect x="2515" y="1608" width="143" height="24" rx="7"/><text x="2586.5" y="1624.3">Four areas of criteria</text></g>
<g id="n_truths" class="n"><rect x="2426.6" y="1659.4" width="314.4" height="27" rx="7"/><text x="2583.8" y="1677.2">There are few "truths" that do not require testing</text></g>
<g id="n_evidence" class="n"><rect x="2417" y="1707.5" width="337" height="27" rx="7"/><text x="2585.5" y="1725.3">All evidence is not the same in quality and substance</text></g>
<g id="n_prestigious" class="n"><rect x="2382" y="1755" width="405" height="43" rx="7"/><text x="2584.5" y="1773.55">A prestigious person may have extensive experience in scientific<tspan x="2584.5" dy="14.5">research, but that doesn't mean everything they claim is true</tspan></text></g>
<g id="n_openmind" class="n"><rect x="2456.5" y="1813" width="250.5" height="27" rx="7"/><text x="2581.75" y="1830.8">Critical thinking requires an open mind</text></g>
</svg>
